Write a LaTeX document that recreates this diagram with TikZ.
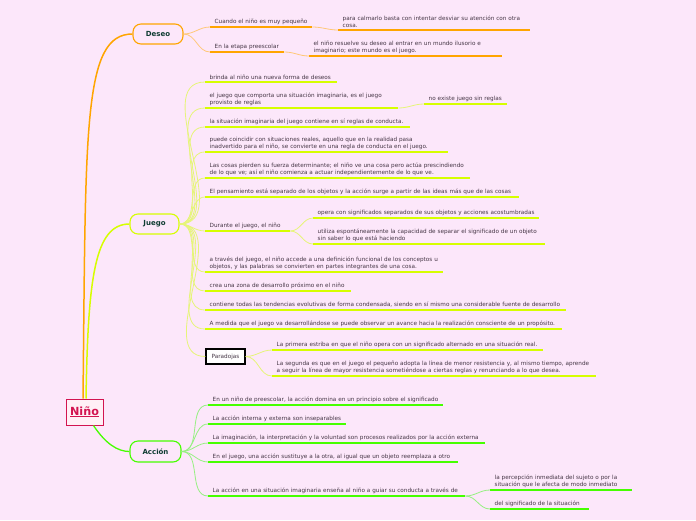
\documentclass[tikz,border=0pt]{standalone}
\usepackage{fontspec}
\setmainfont{DejaVu Sans}
\definecolor{bg}{RGB}{252,231,250}
\definecolor{txt}{RGB}{70,55,70}
\definecolor{mtxt}{RGB}{15,60,50}
\definecolor{org}{RGB}{255,165,0}
\definecolor{orgl}{RGB}{255,200,120}
\definecolor{yel}{RGB}{214,255,0}
\definecolor{yell}{RGB}{230,245,120}
\definecolor{grn}{RGB}{70,255,0}
\definecolor{grnl}{RGB}{150,240,130}
\definecolor{crim}{RGB}{210,20,80}
\newcommand{\fsm}{\fontsize{5.7}{7}\selectfont}
\newcommand{\myul}[1]{\setbox0\hbox{#1}\rlap{\rule[-2.2pt]{\wd0}{1pt}}\box0}
\tikzset{
  leaf/.style={anchor=south west, align=left, font=\fsm, text=txt, inner xsep=4.5pt, inner ysep=2.4pt},
  mainbox/.style={rounded corners=8pt, line width=1.1pt, fill=bg, font=\fontsize{7}{8}\selectfont\bfseries, text=mtxt, inner sep=0pt},
  ulo/.style={draw=org, line width=1.6pt},
  uly/.style={draw=yel, line width=1.6pt},
  ulg/.style={draw=grn, line width=1.6pt},
  co/.style={draw=orgl, line width=0.8pt},
  cy/.style={draw=yell, line width=0.8pt},
  cg/.style={draw=grnl, line width=0.8pt},
}
\begin{document}
\begin{tikzpicture}[x=1pt,y=1pt]
\useasboundingbox (0,0) rectangle (696,-520);
\fill[bg] (0,0) rectangle (696,-520);

% central
\node[draw=crim, line width=1pt, fill={rgb,255:red,255;green,240;blue,246}, minimum width=37pt, minimum height=26pt, inner sep=0pt, text=crim, font=\fontsize{11.2}{12}\selectfont\bfseries] (nino) at (84.5,-412) {\myul{Niño}};

\node[mainbox, draw=org, minimum width=50pt, minimum height=20pt] (deseo) at (158,-34) {Deseo};
\node[mainbox, draw=yel, minimum width=49pt, minimum height=20pt] (juego) at (154.5,-224) {Juego};
\node[mainbox, draw=grn, minimum width=51pt, minimum height=21pt] (accion) at (155.5,-451.5) {Acción};

\coordinate (n1) at ([xshift=-1.5pt]nino.north);
\coordinate (n2) at ([xshift=1.5pt]nino.north);
\coordinate (n3) at ([xshift=9pt]nino.south);
\draw[draw=org, line width=1.5pt] (n1) .. controls +(3,270) and +(-50,0) .. (deseo.west);
\draw[draw=yel, line width=1.5pt] (n2) .. controls +(2,120) and +(-35,0) .. (juego.west);
\draw[draw=grn, line width=1.3pt] (n3) .. controls +(12,-18) and +(-12,0) .. (accion.west);

% Deseo
\node[leaf, text width=93pt] (d1) at (210,-27) {Cuando el niño es muy pequeño};
\node[leaf, text width=183pt] (d1a) at (338,-30) {para calmarlo basta con intentar desviar su atención con otra\\cosa.};
\node[leaf, text width=65pt] (d2) at (210,-52) {En la etapa preescolar};
\node[leaf, text width=184pt] (d2a) at (309,-56) {el niño resuelve su deseo al entrar en un mundo ilusorio e\\imaginario; este mundo es el juego.};
\foreach \n in {d1,d1a,d2,d2a} \draw[ulo] (\n.south west) -- (\n.south east);
\draw[co] (deseo.east) to[out=0,in=180] (d1.south west);
\draw[co] (deseo.east) to[out=0,in=180] (d2.south west);
\draw[co] (d1.south east) to[out=0,in=180] (d1a.south west);
\draw[co] (d2.south east) to[out=0,in=180] (d2a.south west);

% Juego
\node[leaf, text width=123pt] (j1) at (205,-82) {brinda al niño una nueva forma de deseos};
\node[leaf, text width=184pt] (j2) at (205,-108) {el juego que comporta una situación imaginaria, es el juego\\provisto de reglas};
\node[leaf, text width=74pt] (j2a) at (424,-104) {no existe juego sin reglas};
\node[leaf, text width=196pt] (j3) at (205,-127) {la situación imaginaria del juego contiene en sí reglas de conducta.};
\node[leaf, text width=234pt] (j4) at (205,-152) {puede coincidir con situaciones reales, aquello que en la realidad pasa\\inadvertido para el niño, se convierte en una regla de conducta en el juego.};
\node[leaf, text width=256pt] (j5) at (205,-178) {Las cosas pierden su fuerza determinante; el niño ve una cosa pero actúa prescindiendo\\de lo que ve; así el niño comienza a actuar independientemente de lo que ve.};
\node[leaf, text width=305pt] (j6) at (205,-197) {El pensamiento está separado de los objetos y la acción surge a partir de las ideas más que de las cosas};
\node[leaf, text width=76pt] (j7) at (205,-231) {Durante el juego, el niño};
\node[leaf, text width=217pt] (j7a) at (313,-218) {opera con significados separados de sus objetos y acciones acostumbradas};
\node[leaf, text width=223pt] (j7b) at (313,-244) {utiliza espontáneamente la capacidad de separar el significado de un objeto\\sin saber lo que está haciendo};
\node[leaf, text width=229pt] (j8) at (205,-272) {a través del juego, el niño accede a una definición funcional de los conceptos u\\objetos, y las palabras se convierten en partes integrantes de una cosa.};
\node[leaf, text width=137pt] (j9) at (205,-291) {crea una zona de desarrollo próximo en el niño};
\node[leaf, text width=352pt] (j10) at (205,-310) {contiene todas las tendencias evolutivas de forma condensada, siendo en sí mismo una considerable fuente de desarrollo};
\node[leaf, text width=348pt] (j11) at (205,-329) {A medida que el juego va desarrollándose se puede observar un avance hacia la realización consciente de un propósito.};
\node[draw=black, line width=1.3pt, fill=white, minimum width=39pt, minimum height=15pt, inner sep=0pt, font=\fsm, text=txt] (par) at (225.5,-356.5) {Paradojas};
\node[leaf, text width=262pt] (p1) at (272,-350) {La primera estriba en que el niño opera con un significado alternado en una situación real.};
\node[leaf, text width=315pt] (p2) at (272,-376) {La segunda es que en el juego el pequeño adopta la línea de menor resistencia y, al mismo tiempo, aprende\\a seguir la línea de mayor resistencia sometiéndose a ciertas reglas y renunciando a lo que desea.};
\foreach \n in {j1,j2,j2a,j3,j4,j5,j6,j7,j7a,j7b,j8,j9,j10,j11,p1,p2} \draw[uly] (\n.south west) -- (\n.south east);
\foreach \n in {j1,j2,j3,j4,j5,j6,j7,j8,j9,j10,j11} \draw[cy] (juego.east) to[out=0,in=180] (\n.south west);
\draw[cy] (juego.east) to[out=0,in=180] (par.west);
\draw[cy] (j2.south east) to[out=0,in=180] (j2a.south west);
\draw[cy] (j7.south east) to[out=0,in=180] (j7a.south west);
\draw[cy] (j7.south east) to[out=0,in=180] (j7b.south west);
\draw[cy] (par.east) to[out=0,in=180] (p1.south west);
\draw[cy] (par.east) to[out=0,in=180] (p2.south west);

% Accion
\node[leaf, text width=226pt] (a1) at (208,-405) {En un niño de preescolar, la acción domina en un principio sobre el significado};
\node[leaf, text width=129pt] (a2) at (208,-424) {La acción interna y externa son inseparables};
\node[leaf, text width=268pt] (a3) at (208,-443) {La imaginación, la interpretación y la voluntad son procesos realizados por la acción externa};
\node[leaf, text width=241pt] (a4) at (208,-462) {En el juego, una acción sustituye a la otra, al igual que un objeto reemplaza a otro};
\node[leaf, text width=248pt] (a5) at (208,-496) {La acción en una situación imaginaria enseña al niño a guiar su conducta a través de};
\node[leaf, text width=133pt] (a5a) at (490,-490) {la percepción inmediata del sujeto o por la\\situación que le afecta de modo inmediato};
\node[leaf, text width=90pt] (a5b) at (490,-509) {del significado de la situación};
\foreach \n in {a1,a2,a3,a4,a5,a5a,a5b} \draw[ulg] (\n.south west) -- (\n.south east);
\foreach \n in {a1,a2,a3,a4,a5} \draw[cg] (accion.east) to[out=0,in=180] (\n.south west);
\draw[cg] (a5.south east) to[out=0,in=180] (a5a.south west);
\draw[cg] (a5.south east) to[out=0,in=180] (a5b.south west);
\end{tikzpicture}
\end{document}
